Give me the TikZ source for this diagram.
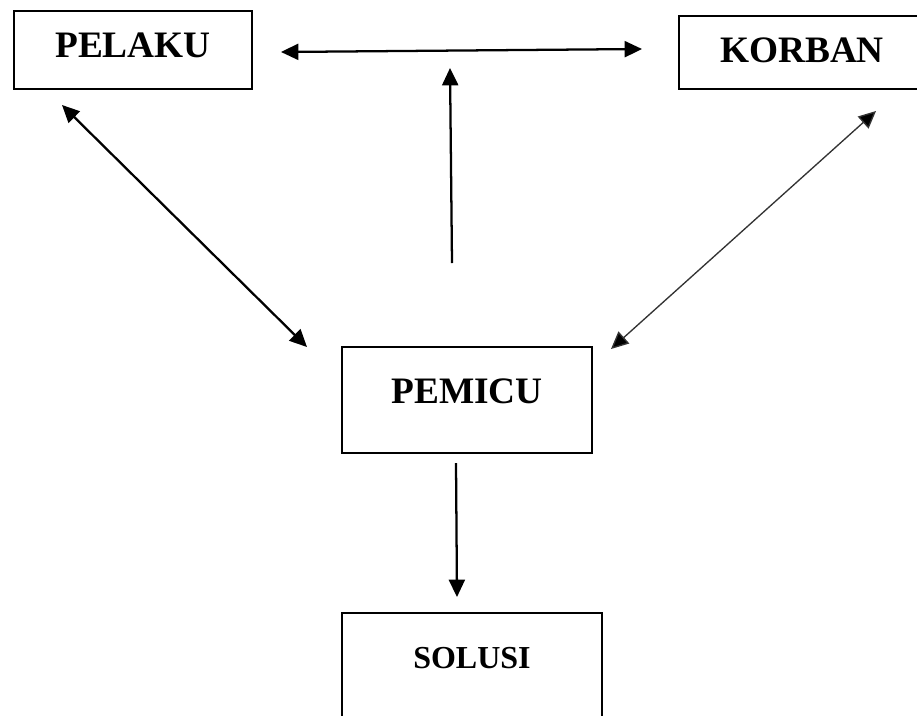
\documentclass[tikz,border=0pt]{standalone}
\usepackage{fontspec}
\setmainfont{Liberation Serif}
\usetikzlibrary{arrows.meta}
\tikzset{
  box/.style={draw, line width=1.9pt, rectangle, inner sep=0pt, outer sep=0pt,
              font=\bfseries\fontsize{28}{30}\selectfont, align=center},
  tip/.style={Triangle[length=13pt,width=12pt]},
  link/.style={line width=1.7pt, -{Triangle[length=13pt,width=12pt]}},
  duo/.style={line width=1.7pt, {Triangle[length=13pt,width=12pt]}-{Triangle[length=13pt,width=12pt]}},
  thinduo/.style={line width=1pt, draw=black!80,
    {Triangle[length=13pt,width=12pt,fill=black]}-{Triangle[length=13pt,width=12pt,fill=black]}}
}
\begin{document}
\begin{tikzpicture}[x=0.75pt, y=-0.75pt]
  \clip (0,0) rectangle (917,715);
  \fill[white] (0,0) rectangle (917,715);

  % boxes
  \node[box, minimum width=178.5pt, text height=35pt, text depth=23.5pt] (pelaku) at (133,50) {PELAKU};
  \node[box, minimum width=184.5pt, text height=34.5pt, text depth=20.25pt] (korban) at (802,52.5) {KORBAN};
  \node[box, minimum width=187.5pt, text height=42pt, text depth=37.5pt] (pemicu) at (467,400) {PEMICU};
  \node[box, minimum width=195pt, text height=41.25pt, text depth=54pt,
        font=\bfseries\fontsize{24}{28}\selectfont] (solusi) at (472,676.5) {SOLUSI};

  % free ends of the connectors
  \coordinate (hL) at (281,52);
  \coordinate (hR) at (642,49);
  \coordinate (vB) at (452,263);
  \coordinate (vT) at (450,68);
  \coordinate (lT) at (62,105);
  \coordinate (lB) at (307,347);
  \coordinate (rT) at (876,111);
  \coordinate (rB) at (611,349);
  \coordinate (dT) at (456,463);
  \coordinate (dB) at (457,597);

  % connectors
  \draw[duo] (hL) -- (hR);
  \draw[link] (vB) -- (vT);
  \draw[duo] (lT) -- (lB);
  \draw[thinduo] (rT) -- (rB);
  \draw[link] (dT) -- (dB);
\end{tikzpicture}
\end{document}
